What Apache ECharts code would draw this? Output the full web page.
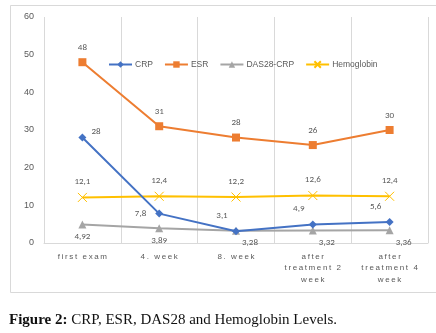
<!DOCTYPE html>
<html>
<head>
<meta charset="utf-8">
<script src="https://cdn.jsdelivr.net/npm/echarts@6/dist/echarts.min.js"></script>
<style>
  html, body { margin: 0; padding: 0; background: #fff; }
  #chart { width: 436px; height: 333px; }
</style>
</head>
<body>
<div id="chart"></div>
<script>
const categories = ['first exam', '4. week', '8. week', 'after\ntreatment 2\nweek', 'after\ntreatment 4\nweek']
const crp = [28, 7.8, 3.1, 4.9, 5.6]
const esr = [48, 31, 28, 26, 30]
const das28 = [4.92, 3.89, 3.28, 3.32, 3.36]
const hemoglobin = [12.1, 12.4, 12.2, 12.6, 12.4]
const yTicks = [0, 10, 20, 30, 40, 50, 60]

const chart = echarts.init(document.getElementById('chart'))

// comma decimals like the original
const fmt = p => String(p.value).replace('.', ',')
const spaced = s => s.split('\n').map(l => l.split('').join('\u2009')).join('\n')
const labelStyle = { color: '#595959', fontSize: 9, fontFamily: 'Calibri, "Liberation Sans", sans-serif', formatter: fmt }

const option = {
  backgroundColor: '#fff',
  animation: false,
  title: {
    left: 4,
    top: 308,
    text: '{b|Figure 2:} CRP, ESR, DAS28 and Hemoglobin Levels.',
    textStyle: {
      fontFamily: '"Liberation Serif", serif',
      fontSize: 15,
      fontWeight: 'normal',
      color: '#111',
      rich: { b: { fontFamily: '"Liberation Serif", serif', fontSize: 15, fontWeight: 'bold', color: '#111' } }
    }
  },
  graphic: [{
    type: 'rect',
    shape: { x: 10.5, y: 5.5, width: 440, height: 287 },
    style: { fill: 'none', stroke: '#d9d9d9', lineWidth: 1 },
    z: -1
  }],
  legend: {
    top: 55,
    left: 103,
    itemWidth: 23,
    itemHeight: 8,
    itemGap: 11,
    textStyle: { color: '#595959', fontSize: 8.5, padding: [0, 0, 0, -2], fontFamily: '"Liberation Sans", sans-serif' },
    data: ['CRP', 'ESR', 'DAS28-CRP', 'Hemoglobin']
  },
  grid: { left: 44, right: 8, top: 17, bottom: 90 },
  xAxis: {
    type: 'category',
    data: categories,
    boundaryGap: true,
    axisTick: { show: false },
    axisLine: { lineStyle: { color: '#d9d9d9' } },
    splitLine: { show: true, lineStyle: { color: '#d9d9d9' } },
    axisLabel: {
      color: '#595959',
      fontSize: 8,
      lineHeight: 11.5,
      margin: 8,
      fontFamily: '"Liberation Sans", sans-serif',
      formatter: v => spaced(v)
    }
  },
  yAxis: {
    type: 'value',
    min: yTicks[0],
    max: yTicks[yTicks.length - 1],
    interval: 10,
    axisLine: { show: false },
    axisTick: { show: false },
    splitLine: { show: false },
    axisLabel: { color: '#595959', fontSize: 9, margin: 10, fontFamily: '"Liberation Sans", sans-serif' }
  },
  series: [
    {
      name: 'CRP',
      type: 'line',
      data: crp,
      symbol: 'diamond',
      symbolSize: 8,
      lineStyle: { color: '#4472C4', width: 2 },
      itemStyle: { color: '#4472C4' },
      label: { show: true, ...labelStyle, position: 'top', offset: [-12, 0] },
      z: 4
    },
    {
      name: 'ESR',
      type: 'line',
      data: esr,
      symbol: 'rect',
      symbolSize: 8,
      lineStyle: { color: '#ED7D31', width: 2 },
      itemStyle: { color: '#ED7D31' },
      label: { show: true, ...labelStyle, position: 'top', distance: 6 }
    },
    {
      name: 'DAS28-CRP',
      type: 'line',
      data: das28,
      symbol: 'triangle',
      symbolSize: 8,
      lineStyle: { color: '#A5A5A5', width: 2 },
      itemStyle: { color: '#A5A5A5' },
      label: { show: true, ...labelStyle, position: 'bottom', distance: 4 },
      z: 3
    },
    {
      name: 'Hemoglobin',
      type: 'line',
      data: hemoglobin,
      symbol: 'path://M0,0L10,10M10,0L0,10',
      symbolSize: 9,
      lineStyle: { color: '#FFC000', width: 2 },
      itemStyle: { color: '#FFC000', borderColor: '#FFC000', borderWidth: 1 },
      label: { show: true, ...labelStyle, position: 'top', distance: 6 }
    }
  ]
}

// per-point label tweaks for CRP and DAS28
option.series[0].data = crp.map((v, i) => {
  if (i === 0) return { value: v, label: { position: 'right', offset: [0, -6] } }
  if (i === 1) return { value: v, label: { position: 'left', offset: [-4, 0] } }
  return { value: v, label: { position: 'top', offset: [-14, -2] } }
})
option.series[2].data = das28.map((v, i) => {
  if (i >= 2) return { value: v, label: { position: 'bottom', offset: [14, 0] } }
  return v
})

chart.setOption(option)
</script>
</body>
</html>
